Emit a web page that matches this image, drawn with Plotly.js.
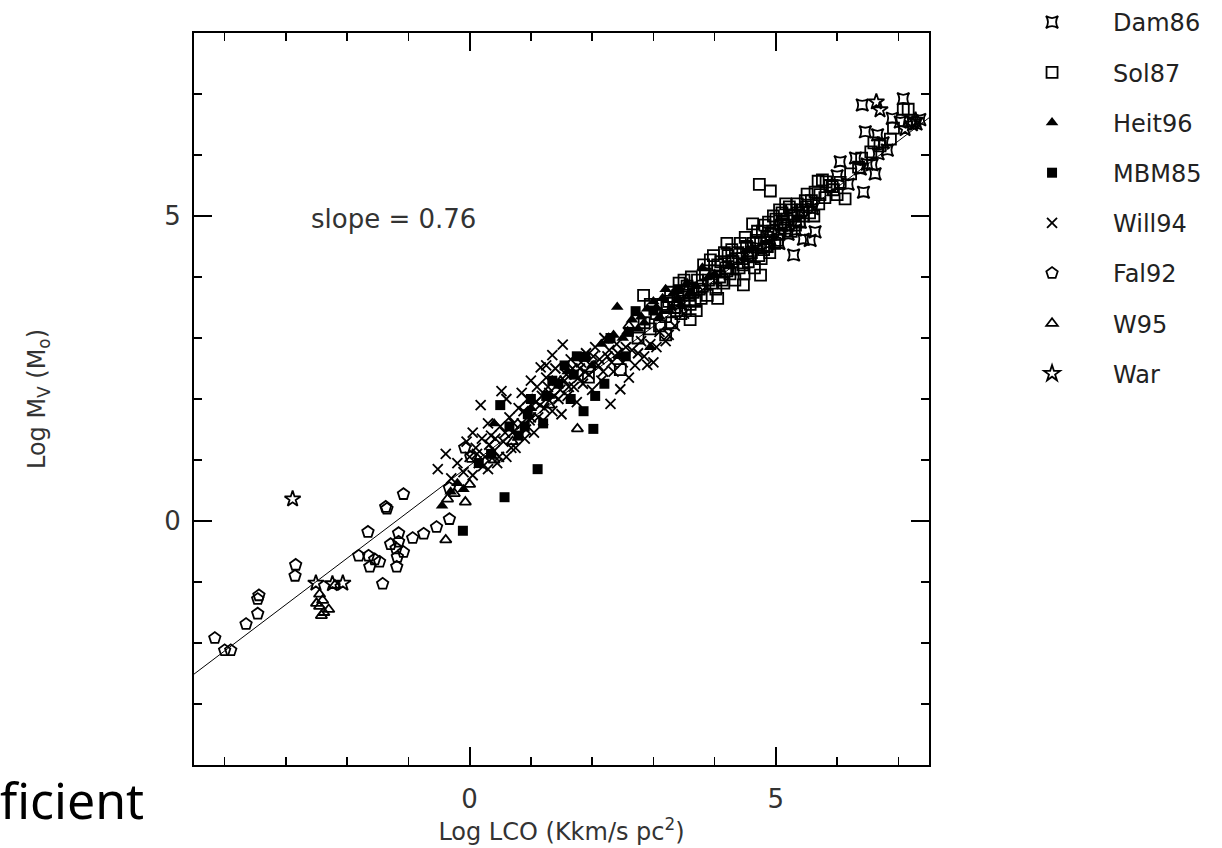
<!DOCTYPE html>
<html>
<head>
<meta charset="utf-8">
<script src="https://cdn.plot.ly/plotly-3.0.1.min.js"></script>
<style>html,body{margin:0;padding:0;background:#fff;}#chart{width:1222px;height:848px;}</style>
</head>
<body>
<div id="chart"></div>
<script>
// ---- data ----
const dam86X = [7.08, 6.46, 7.03, 6.66, 6.82, 6.49, 6.62, 6.05, 6.00, 6.43, 5.64, 5.29, 5.45, 5.56, 7.29, 7.23, 6.75, 6.67, 6.57, 6.38, 6.41, 5.32, 6.18, 6.30, 5.20, 5.05, 4.90, 4.70, 5.40, 5.10, 4.55, 4.85, 5.60, 6.90, 7.35];
const dam86Y = [6.92, 6.38, 6.54, 6.33, 6.08, 5.85, 5.69, 5.89, 5.66, 5.39, 4.74, 4.36, 4.62, 4.60, 6.51, 6.54, 6.20, 6.02, 5.84, 5.77, 6.82, 4.77, 5.52, 5.95, 4.70, 4.55, 4.62, 4.48, 4.90, 4.85, 4.35, 4.50, 5.12, 6.60, 6.58];

const sol87X = [2.75, 2.85, 2.95, 3.05, 3.10, 3.15, 3.20, 3.25, 3.30, 3.35, 3.40, 3.45, 3.50, 3.55, 3.60, 3.65, 3.70, 3.72, 3.78, 3.80, 3.85, 3.88, 3.93, 3.95, 4.00, 4.02, 4.08, 4.10, 4.15, 4.18, 4.22, 4.25, 4.30, 4.33, 4.38, 4.40, 4.45, 4.48, 4.52, 4.55, 4.60, 4.62, 4.65, 4.68, 4.72, 4.75, 4.78, 4.80, 4.85, 4.88, 4.90, 4.95, 4.98, 5.00, 5.05, 5.08, 5.10, 5.15, 5.18, 5.22, 5.25, 5.30, 5.35, 5.38, 5.42, 5.48, 5.51, 5.55, 5.64, 5.69, 5.76, 5.82, 5.92, 5.94, 6.13, 6.22, 4.73, 4.91, 7.08, 7.16, 6.92, 6.87, 2.84, 2.46, 1.94, 3.20, 3.60, 4.05, 4.47, 4.75, 4.20, 3.50, 2.95, 5.70, 6.00, 6.35, 6.55, 6.70,
  3.22, 3.28, 3.38, 3.42, 3.48, 3.52, 3.58, 3.62, 3.68, 3.75, 3.82, 3.90, 3.98, 4.05, 4.12, 4.16, 4.20, 4.28, 4.35, 4.42, 4.46, 4.50, 4.58, 4.63, 4.70, 4.76, 4.82, 4.86, 4.92, 4.96, 5.02, 5.06, 5.12, 5.16, 5.20, 5.26, 5.32, 5.36, 5.45, 5.50, 5.58, 5.62, 5.72, 5.80, 5.88, 6.05, 6.40, 6.60];
const sol87Y = [3.00, 3.25, 3.15, 3.40, 3.20, 3.55, 3.35, 3.60, 3.25, 3.50, 3.70, 3.40, 3.60, 3.85, 3.55, 3.75, 3.45, 3.95, 3.65, 3.85, 4.05, 3.70, 4.28, 3.90, 4.10, 3.80, 4.00, 4.25, 3.90, 4.15, 4.35, 4.05, 4.25, 3.95, 4.40, 4.15, 4.30, 4.05, 4.50, 4.25, 4.40, 4.87, 4.15, 4.60, 4.35, 4.55, 4.75, 4.45, 4.65, 4.90, 4.40, 4.75, 4.55, 4.95, 4.70, 4.85, 5.05, 4.80, 4.95, 5.15, 4.75, 5.00, 5.20, 4.90, 5.10, 5.25, 5.36, 5.05, 5.39, 5.57, 5.59, 5.56, 5.48, 5.43, 5.28, 5.69, 5.52, 5.41, 6.75, 6.75, 6.44, 6.26, 3.70, 2.48, 2.36, 3.05, 3.30, 3.65, 3.87, 4.03, 4.55, 3.95, 3.55, 5.20, 5.35, 5.80, 6.05, 6.15,
  3.50, 3.75, 3.45, 3.90, 3.75, 3.45, 3.70, 4.00, 3.60, 3.80, 4.20, 3.95, 4.35, 4.20, 3.95, 4.40, 4.10, 4.45, 4.30, 4.55, 4.20, 4.65, 4.35, 4.55, 4.75, 4.30, 4.85, 4.50, 4.70, 5.00, 4.60, 5.10, 4.90, 5.20, 4.85, 5.10, 4.85, 5.05, 5.00, 5.15, 5.25, 5.00, 5.35, 5.30, 5.50, 5.55, 5.95, 6.20];

const heit96X = [-0.31, -0.10, -0.45, -0.20, 2.90, 2.58, 3.33, 2.15, 2.35, 2.45, 2.65, 2.75, 3.00, 3.10, 3.20, 3.45, 3.55, 3.70, 3.80, 4.00, 4.25, 4.55, 1.60, 1.30, 1.00, 2.00, 2.95, 0.40, 2.41, 2.50, 2.80, 3.05, 3.30, 3.60, 3.90, 2.25, 2.85, 3.15, 3.40];
const heit96Y = [0.48, 0.52, 0.25, 0.62, 3.48, 3.11, 3.74, 2.90, 3.05, 2.70, 3.30, 3.15, 3.60, 3.35, 3.80, 3.55, 3.90, 3.85, 4.15, 4.05, 4.20, 4.45, 2.45, 2.05, 1.85, 2.55, 2.85, 1.60, 3.51, 3.00, 3.35, 3.50, 3.50, 3.75, 4.00, 2.95, 3.25, 3.65, 3.65];

const mbm85X = [0.57, 1.11, 2.02, 1.86, 2.30, 2.71, 1.89, -0.11, 0.35, 0.65, 0.95, 1.25, 1.45, 1.55, 1.20, 0.80, 0.15, 1.70, 2.20, 2.55, 3.00, 3.40, 2.05, 0.50, 1.00, 1.35, 1.75, 2.60, 1.65, 0.90];
const mbm85Y = [0.39, 0.85, 1.51, 1.80, 3.00, 3.44, 2.69, -0.16, 1.10, 1.55, 1.75, 2.05, 2.25, 2.55, 1.60, 1.40, 0.95, 2.40, 2.25, 2.70, 3.45, 3.80, 2.05, 1.90, 2.00, 2.30, 2.70, 3.10, 2.00, 1.55];

const will94X = [-0.52, -0.39, 0.18, 0.52, 1.35, 1.52, 1.16, 2.30, 2.90, 2.46, -0.30, -0.20, -0.10, 0.00, 0.05, 0.10, 0.15, 0.20, 0.25, 0.30, 0.35, 0.40, 0.45, 0.50, 0.55, 0.60, 0.65, 0.70, 0.75, 0.80, 0.85, 0.90, 0.95, 1.00, 1.05, 1.10, 1.15, 1.20, 1.25, 1.30, 1.35, 1.40, 1.45, 1.50, 1.55, 1.60, 1.65, 1.70, 1.75, 1.80, 1.85, 1.90, 1.95, 2.00, 2.05, 2.10, 2.15, 2.20, 2.25, 2.35, 2.40, 2.50, 2.60, 2.65, 2.70, 2.80, 2.85, 3.00, 3.10, 3.20, 3.35, 3.50, 0.60, 1.00, 0.30, -0.05, 0.05,
  0.12, 0.22, 0.32, 0.42, 0.48, 0.58, 0.68, 0.72, 0.78, 0.88, 0.92, 0.98, 1.08, 1.12, 1.18, 1.22, 1.28, 1.38, 1.42, 1.48, 1.58, 1.62, 1.68, 1.78, 1.82, 1.88, 1.98, 2.02, 2.12, 2.18, 2.28, 2.32, 2.42, 2.55, 2.75, 2.95, 3.05, 3.25, 0.85, 1.25];
const will94Y = [0.85, 1.10, 1.90, 2.13, 2.72, 2.89, 2.52, 1.92, 2.56, 2.16, 0.70, 0.95, 0.80, 1.05, 0.75, 1.20, 0.95, 1.35, 1.05, 0.85, 1.40, 1.15, 0.95, 1.55, 1.30, 1.05, 1.70, 1.45, 1.20, 1.85, 1.60, 1.35, 2.00, 1.70, 1.45, 2.20, 1.90, 1.65, 2.35, 2.10, 1.80, 2.50, 2.00, 1.75, 2.30, 2.05, 2.65, 2.20, 1.95, 2.50, 2.25, 2.75, 2.40, 2.15, 2.85, 2.55, 2.30, 3.00, 2.70, 2.45, 2.90, 2.60, 2.35, 2.80, 2.55, 2.95, 2.70, 2.60, 3.10, 2.95, 3.20, 3.40, 2.00, 2.30, 1.60, 1.30, 1.45,
  1.10, 0.90, 1.25, 1.35, 1.05, 1.45, 1.20, 1.60, 1.40, 1.80, 1.50, 1.65, 1.95, 1.70, 2.05, 1.85, 2.20, 2.05, 2.30, 2.15, 2.40, 2.20, 2.50, 2.35, 2.60, 2.45, 2.55, 2.70, 2.65, 2.45, 2.80, 2.60, 2.75, 2.85, 2.75, 2.90, 2.85, 3.05, 2.10, 2.55];

const fal92X = [-4.16, -4.00, -3.90, -3.65, -3.46, -3.46, -3.44, -2.84, -2.85, -1.66, -1.81, -1.65, -1.63, -1.47, -1.42, -1.37, -1.35, -1.08, -1.29, -1.16, -1.16, -1.18, -1.19, -1.08, -0.93, -0.75, -0.54, -0.33, -0.08, 0.02, -0.33, -1.55, -1.20];
const fal92Y = [-1.92, -2.12, -2.12, -1.69, -1.52, -1.28, -1.22, -0.72, -0.90, -0.18, -0.57, -0.57, -0.75, -0.67, -1.03, 0.23, 0.20, 0.44, -0.38, -0.20, -0.34, -0.59, -0.75, -0.51, -0.28, -0.21, -0.10, 0.03, 1.20, 1.05, 0.54, -0.63, -0.45];

const w95X = [-2.45, -2.40, -2.45, -2.38, -2.30, -2.50, -2.42, -2.20, -0.36, -0.07, -0.39, 1.76, -0.25, 0.00, 0.40, 0.70, 1.30, 2.60, 3.60];
const w95Y = [-1.20, -1.30, -1.40, -1.50, -1.45, -1.35, -1.55, -1.05, 0.36, 0.31, -0.31, 1.51, 0.45, 0.60, 1.00, 1.30, 1.90, 3.20, 3.70];

const warX = [-2.89, -2.51, -2.24, -2.07, 6.64, 6.70, 7.23, 7.28, 7.11];
const warY = [0.36, -1.02, -1.03, -1.02, 6.87, 6.74, 6.51, 6.57, 6.43];

const fitSlope = 0.76;
const fitIntercept = 0.91;
const fitX = [-4.5, 7.5];

const xTickLabels = ['0', '5'];
const yTickLabels = ['0', '5'];

// ---- chart ----
const fontFam = 'DejaVu Sans, Liberation Sans, sans-serif';
function series(name, x, y, symbol, size, filled) {
  return {
    type: 'scatter', mode: 'markers', name: name, x: x, y: y,
    legendgroup: name,
    marker: {
      symbol: symbol, size: size, color: '#000',
      line: {color: '#000', width: filled ? 0 : 1.8}
    },
    hoverinfo: 'x+y+name'
  };
}

const traces = [
  {type: 'scatter', mode: 'lines', x: fitX, y: fitX.map(v => fitSlope * v + fitIntercept),
   line: {color: '#000', width: 1}, showlegend: false, hoverinfo: 'skip'},
  series('Dam86', dam86X, dam86Y, 'star-square-open', 11, false),
  series('Sol87', sol87X, sol87Y, 'square-open', 11, false),
  series('Heit96', heit96X, heit96Y, 'triangle-up', 11, true),
  series('MBM85', mbm85X, mbm85Y, 'square', 10, true),
  series('Will94', will94X, will94Y, 'x-thin-open', 10, false),
  series('Fal92', fal92X, fal92Y, 'pentagon-open', 12, false),
  series('W95', w95X, w95Y, 'triangle-up-open', 10, false),
  series('War', warX, warY, 'star-open', 12, false)
];

const axisCommon = {
  showgrid: false, zeroline: false,
  showline: true, linecolor: '#000', linewidth: 2, mirror: 'ticks',
  ticks: 'inside', ticklen: 18, tickwidth: 2, tickcolor: '#000',
  tickfont: {family: fontFam, size: 26, color: '#333'},
  tickmode: 'array', tickvals: [0, 5],
  minor: {dtick: 1, tick0: 0, ticks: 'inside', ticklen: 8, tickwidth: 1.5, tickcolor: '#000', showgrid: false}
};

const layout = {
  width: 1222, height: 848,
  margin: {l: 194, r: 293, t: 33, b: 83, pad: 0},
  paper_bgcolor: '#fff', plot_bgcolor: '#fff',
  showlegend: true,
  font: {family: fontFam, color: '#333'},
  xaxis: Object.assign({}, axisCommon, {
    range: [-4.5, 7.5], ticktext: xTickLabels, ticklabelstandoff: 10,
    title: {text: 'Log LCO (Kkm/s pc<sup>2</sup>)', font: {family: fontFam, size: 24, color: '#333'}, standoff: 4}
  }),
  yaxis: Object.assign({}, axisCommon, {
    range: [-4, 8], ticktext: yTickLabels, ticklabelstandoff: 6,
    title: {text: 'Log M<sub>V</sub> (M<sub>o</sub>)', font: {family: fontFam, size: 24, color: '#333'}, standoff: 112}
  }),
  legend: {
    xref: 'container', yref: 'container',
    x: 0.811, xanchor: 'left', y: 1.0, yanchor: 'top',
    bgcolor: 'rgba(0,0,0,0)', borderwidth: 0,
    font: {family: fontFam, size: 24, color: '#222'},
    traceorder: 'grouped', tracegroupgap: 16, itemwidth: 112, itemsizing: 'trace'
  },
  annotations: [
    {xref: 'x', yref: 'y', x: -2.62, y: 4.95, xanchor: 'left', yanchor: 'middle',
     text: 'slope = 0.76', showarrow: false, font: {family: fontFam, size: 26, color: '#333'}},
    {xref: 'paper', yref: 'paper', x: -0.266, y: -0.048, xanchor: 'left', yanchor: 'middle',
     text: 'ficient', showarrow: false, font: {family: 'Noto Sans, sans-serif', size: 50, color: '#000'}}
  ]
};

Plotly.newPlot('chart', traces, layout, {displayModeBar: false, staticPlot: true});
</script>
</body>
</html>
